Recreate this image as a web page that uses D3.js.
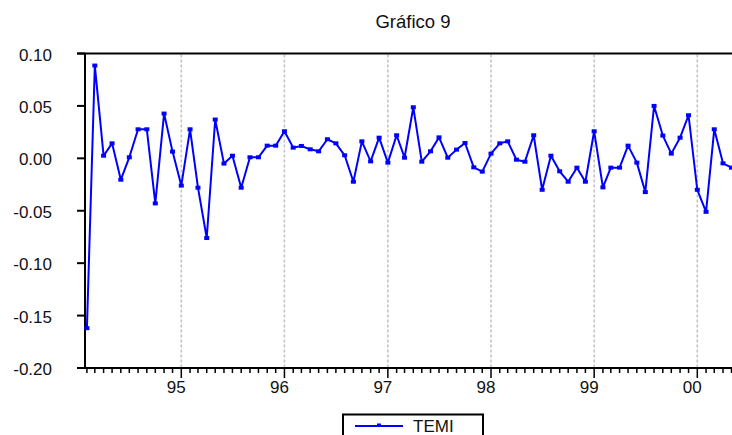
<!DOCTYPE html>
<html>
<head>
<meta charset="utf-8">
<script src="https://cdn.jsdelivr.net/npm/d3@7/dist/d3.min.js"></script>
<style>
  html, body { margin: 0; padding: 0; background: #fff; }
  svg { display: block; font-family: "Liberation Sans", Arial, sans-serif; }
</style>
</head>
<body>
<svg id="chart" width="732" height="435"></svg>
<script>
// Monthly series TEMI, Feb 1994 – May 2000
const seriesName = "TEMI";
const firstMonth = new Date(1994, 1, 1);
const temi = [
  -0.162, 0.0885, 0.0025, 0.0143, -0.0204, 0.0010, 0.0277, 0.0277, -0.0430, 0.0427, 0.0064,
  -0.0260, 0.0277, -0.0280, -0.0760, 0.0370, -0.0050, 0.0025, -0.0280, 0.0010, 0.0010, 0.0121, 0.0121,
  0.0258, 0.0102, 0.0118, 0.0086, 0.0067, 0.0182, 0.0143, 0.0029, -0.0223, 0.0162, -0.0029, 0.0197,
  -0.0041, 0.0220, 0.0006, 0.0487, -0.0032, 0.0067, 0.0200, 0.0006, 0.0083, 0.0146, -0.0086, -0.0127,
  0.0045, 0.0143, 0.0162, -0.0013, -0.0032, 0.0220, -0.0300, 0.0025, -0.0124, -0.0223, -0.0089, -0.0223,
  0.0258, -0.0277, -0.0089, -0.0089, 0.0121, -0.0041, -0.0322, 0.0500, 0.0217, 0.0045, 0.0197, 0.0411,
  -0.0300, -0.0510, 0.0277, -0.0048, -0.0089
];
const yTicks = [-0.20, -0.15, -0.10, -0.05, 0.00, 0.05, 0.10];
const yearTicks = [1995, 1996, 1997, 1998, 1999, 2000];
const yearLabels = ["95", "96", "97", "98", "99", "00"];
const chartTitle = "Gráfico 9";

const data = temi.map((v, i) => ({ date: d3.timeMonth.offset(firstMonth, i), value: v }));

const svg = d3.select("#chart");
const W = 732;
const plot = { left: 85, right: 733, top: 53.5, bottom: 368 };

// time axis anchored on the year boundaries
const x = d3.scaleTime()
  .domain([new Date(1995, 0, 1), new Date(2000, 0, 1)])
  .range([181.3, 697.3]);
const y = d3.scaleLinear().domain([-0.20, 0.10]).range([plot.bottom, plot.top]);

svg.append("defs").append("clipPath").attr("id", "plotclip")
  .append("rect")
  .attr("x", plot.left - 4).attr("y", plot.top - 10)
  .attr("width", plot.right - plot.left + 8).attr("height", plot.bottom - plot.top + 20);

// title
svg.append("text")
  .attr("x", 413).attr("y", 28)
  .attr("text-anchor", "middle")
  .attr("font-size", 18.5)
  .attr("fill", "#111")
  .text(chartTitle);

// vertical year gridlines
svg.append("g").selectAll("line").data(yearTicks).join("line")
  .attr("x1", d => x(new Date(d, 0, 1))).attr("x2", d => x(new Date(d, 0, 1)))
  .attr("y1", plot.top + 1).attr("y2", plot.bottom)
  .attr("stroke", "#c4c4c4").attr("stroke-width", 1.6)
  .attr("stroke-dasharray", "3,2");

// frame: top and bottom lines, left axis
const frame = svg.append("g").attr("stroke", "#000").attr("stroke-width", 2);
frame.append("line").attr("x1", plot.left - 8).attr("x2", W).attr("y1", plot.top).attr("y2", plot.top);
frame.append("line").attr("x1", plot.left - 8).attr("x2", W).attr("y1", plot.bottom).attr("y2", plot.bottom);
frame.append("line").attr("x1", plot.left).attr("x2", plot.left).attr("y1", plot.top).attr("y2", plot.bottom);

// y ticks and labels
const yAxis = svg.append("g");
yAxis.selectAll("line").data(yTicks).join("line")
  .attr("x1", plot.left - 8).attr("x2", plot.left)
  .attr("y1", d => y(d)).attr("y2", d => y(d))
  .attr("stroke", "#000").attr("stroke-width", 2);
yAxis.selectAll("text").data(yTicks).join("text")
  .attr("x", 52).attr("y", d => y(d) + 7)
  .attr("text-anchor", "end")
  .attr("font-size", 17)
  .attr("fill", "#111")
  .text(d => d.toFixed(2));

// monthly ticks on the bottom axis, longer at each January
const monthTicks = d3.timeMonth.range(firstMonth, d3.timeMonth.offset(firstMonth, temi.length));
svg.append("g").selectAll("line").data(monthTicks).join("line")
  .attr("x1", d => x(d)).attr("x2", d => x(d))
  .attr("y1", plot.bottom)
  .attr("y2", d => plot.bottom + (d.getMonth() === 0 ? 10 : 5))
  .attr("stroke", "#000").attr("stroke-width", 1.5);

svg.append("g").selectAll("text").data(yearTicks).join("text")
  .attr("x", (d) => x(new Date(d, 0, 1)) - 5)
  .attr("y", 393)
  .attr("text-anchor", "middle")
  .attr("font-size", 17)
  .attr("fill", "#111")
  .text((d, i) => yearLabels[i]);

// series line and markers
const lineGen = d3.line().x(d => x(d.date)).y(d => y(d.value));
const series = svg.append("g").attr("clip-path", "url(#plotclip)");
series.append("path")
  .datum(data)
  .attr("d", lineGen)
  .attr("fill", "none")
  .attr("stroke", "#0000ff")
  .attr("stroke-width", 2)
  .attr("stroke-linejoin", "round");
series.selectAll("rect").data(data).join("rect")
  .attr("x", d => x(d.date) - 2.5).attr("y", d => y(d.value) - 2)
  .attr("width", 5).attr("height", 4)
  .attr("fill", "#0000ff");

// legend
const lg = svg.append("g");
lg.append("rect")
  .attr("x", 343).attr("y", 414.5)
  .attr("width", 140).attr("height", 40)
  .attr("fill", "#fff").attr("stroke", "#000").attr("stroke-width", 2);
lg.append("line")
  .attr("x1", 355).attr("x2", 403).attr("y1", 426).attr("y2", 426)
  .attr("stroke", "#0000ff").attr("stroke-width", 2);
lg.append("rect")
  .attr("x", 377).attr("y", 423.5).attr("width", 4).attr("height", 3)
  .attr("fill", "#0000ff");
lg.append("text")
  .attr("x", 413).attr("y", 432)
  .attr("font-size", 17)
  .attr("fill", "#111")
  .text(seriesName);
</script>
</body>
</html>
